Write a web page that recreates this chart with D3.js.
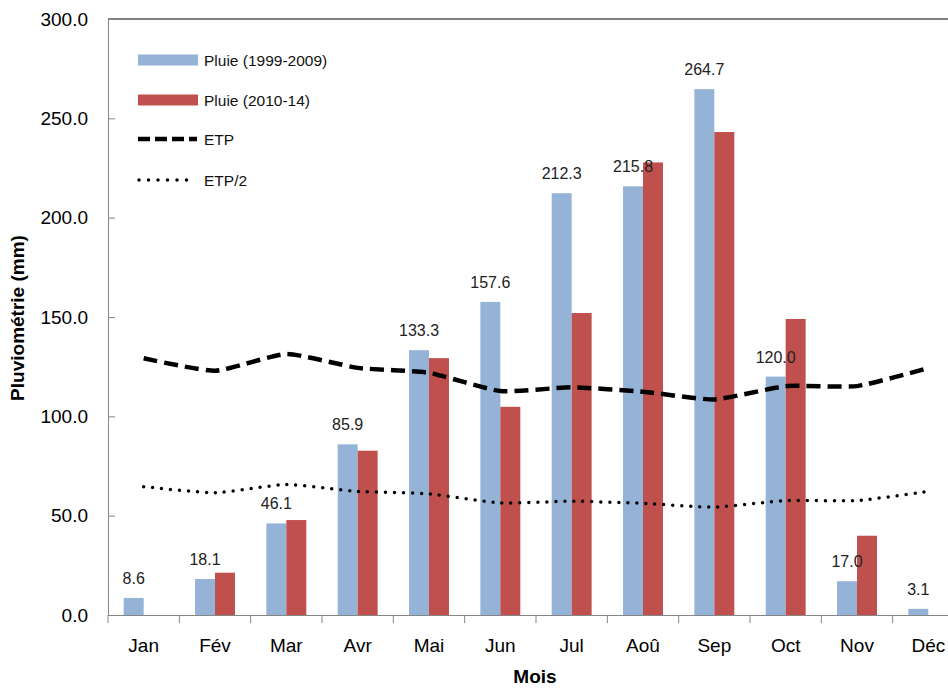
<!DOCTYPE html>
<html>
<head>
<meta charset="utf-8">
<script src="https://cdn.jsdelivr.net/npm/d3@7"></script>
<style>
  body { margin: 0; background: #fff; }
  svg { display: block; font-family: "Liberation Sans", Arial, sans-serif; }
</style>
</head>
<body>
<svg id="chart" width="948" height="688"></svg>
<script>
// data
const months = ["Jan", "Fév", "Mar", "Avr", "Mai", "Jun", "Jul", "Aoû", "Sep", "Oct", "Nov", "Déc"]
const pluie9909 = [8.6, 18.1, 46.1, 85.9, 133.3, 157.6, 212.3, 215.8, 264.7, 120.0, 17.0, 3.1]
const pluie1014 = [0, 21.3, 47.8, 82.7, 129.3, 104.8, 152.0, 227.8, 243.1, 149.0, 39.9, 0]
const etp = [129.2, 122.9, 131.4, 124.4, 121.9, 112.7, 114.6, 112.4, 108.5, 115.2, 115.2, 124.3]
const etpDemi = [64.6, 61.5, 65.7, 62.2, 61.0, 56.4, 57.3, 56.2, 54.3, 57.6, 57.6, 62.2]
const yTicks = [0, 50, 100, 150, 200, 250, 300]

const blue = "#95B3D7"
const red = "#C0504D"
const axisGrey = "#868686"

const svg = d3.select("#chart")

// plot area goes past the right edge, the original is cropped
const x = d3.scaleBand().domain(months).range([108, 964]).padding(0)
const y = d3.scaleLinear().domain([0, 300]).range([615, 19])
const groupW = x.bandwidth() * 0.56
const inner = d3.scaleBand().domain(["a", "b"]).range([0, groupW])
const cx = m => x(m) + x.bandwidth() / 2

// top border
svg.append("line")
    .attr("x1", 108).attr("x2", 948).attr("y1", y(300)).attr("y2", y(300))
    .attr("stroke", "#000").attr("stroke-width", 1.2)

// y axis
const yAxis = svg.append("g").attr("transform", "translate(108,0)")
    .call(d3.axisLeft(y).tickValues(yTicks).tickSize(-7).tickPadding(20).tickFormat(d3.format(".1f")))
yAxis.select(".domain").attr("stroke", axisGrey)
yAxis.selectAll(".tick line").attr("stroke", axisGrey)
yAxis.selectAll(".tick text").attr("font-size", 19).attr("fill", "#000").attr("font-family", null)

// bars
const bars = svg.append("g")
bars.selectAll(".b1").data(months).join("rect")
    .attr("x", m => cx(m) - groupW / 2 + inner("a"))
    .attr("y", (m, i) => y(pluie9909[i]))
    .attr("width", inner.bandwidth())
    .attr("height", (m, i) => y(0) - y(pluie9909[i]))
    .attr("fill", blue)
bars.selectAll(".b2").data(months).join("rect")
    .attr("x", m => cx(m) - groupW / 2 + inner("b"))
    .attr("y", (m, i) => y(pluie1014[i]))
    .attr("width", inner.bandwidth())
    .attr("height", (m, i) => y(0) - y(pluie1014[i]))
    .attr("fill", red)

// x axis
const xAxis = svg.append("g").attr("transform", "translate(0," + y(0) + ")")
    .call(d3.axisBottom(x).tickSize(0).tickPadding(24))
xAxis.select(".domain").attr("stroke", axisGrey)
xAxis.selectAll(".tick text").attr("font-size", 19).attr("fill", "#000").attr("font-family", null)
// ticks between categories
xAxis.selectAll(".sep").data(months).join("line")
    .attr("x1", m => x(m)).attr("x2", m => x(m))
    .attr("y1", 0).attr("y2", 8)
    .attr("stroke", axisGrey)

// lines, smoothed like the spreadsheet did
const line = d3.line()
    .x((d, i) => cx(months[i]))
    .y(d => y(d))
    .curve(d3.curveCardinal.tension(0.5))

svg.append("path").datum(etp)
    .attr("d", line)
    .attr("fill", "none").attr("stroke", "#000")
    .attr("stroke-width", 4.5).attr("stroke-dasharray", "14 7")

svg.append("path").datum(etpDemi)
    .attr("d", line)
    .attr("fill", "none").attr("stroke", "#000")
    .attr("stroke-width", 3.5).attr("stroke-linecap", "round").attr("stroke-dasharray", "0 9")

// value labels on the 1999-2009 bars
svg.append("g").selectAll("text").data(months).join("text")
    .attr("x", m => cx(m) - groupW / 2 + inner("a") + inner.bandwidth() / 2)
    .attr("y", (m, i) => y(pluie9909[i]) - 14)
    .attr("text-anchor", "middle")
    .attr("font-size", 16).attr("fill", "#222")
    .text((m, i) => d3.format(".1f")(pluie9909[i]))

// axis titles
svg.append("text")
    .attr("transform", "translate(24,318) rotate(-90)")
    .attr("text-anchor", "middle")
    .attr("font-size", 19).attr("font-weight", "bold")
    .text("Pluviométrie (mm)")
svg.append("text")
    .attr("x", 535).attr("y", 683)
    .attr("text-anchor", "middle")
    .attr("font-size", 19).attr("font-weight", "bold")
    .text("Mois")

// legend
const legend = svg.append("g")
const legendItems = [
    { label: "Pluie (1999-2009)", type: "bar", color: blue, y: 60 },
    { label: "Pluie (2010-14)", type: "bar", color: red, y: 100 },
    { label: "ETP", type: "dash", y: 139 },
    { label: "ETP/2", type: "dot", y: 180 }
]
legendItems.forEach(it => {
    if (it.type == "bar") {
        legend.append("rect").attr("x", 138).attr("y", it.y - 5.5).attr("width", 60).attr("height", 11).attr("fill", it.color)
    } else if (it.type == "dash") {
        legend.append("line").attr("x1", 138).attr("x2", 197).attr("y1", it.y).attr("y2", it.y)
            .attr("stroke", "#000").attr("stroke-width", 4.5).attr("stroke-dasharray", "12 5")
    } else {
        legend.append("line").attr("x1", 139).attr("x2", 196).attr("y1", it.y).attr("y2", it.y)
            .attr("stroke", "#000").attr("stroke-width", 3.5).attr("stroke-linecap", "round").attr("stroke-dasharray", "0 9.5")
    }
    legend.append("text").attr("x", 204).attr("y", it.y + 5.5)
        .attr("font-size", 15.5).attr("fill", "#111")
        .text(it.label)
})
</script>
</body>
</html>
